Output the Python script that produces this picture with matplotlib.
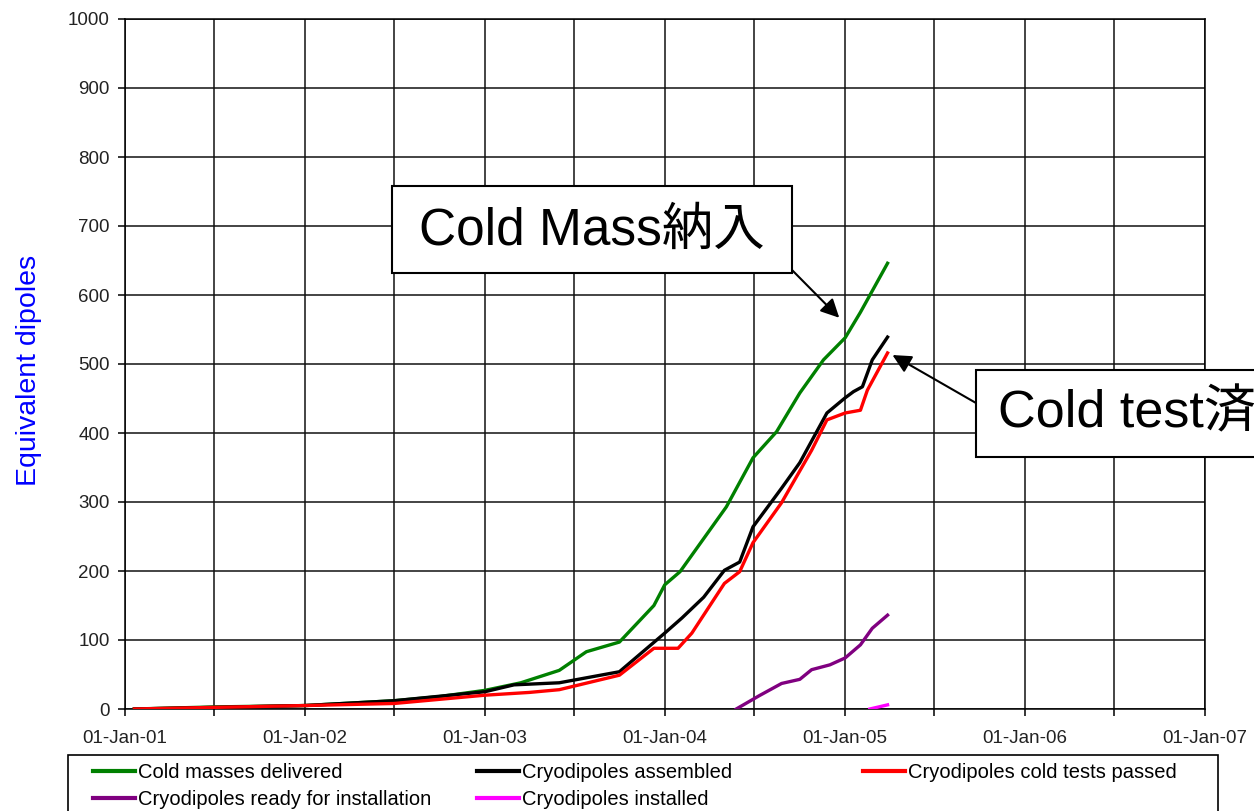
import pandas as pd
import matplotlib
matplotlib.use('Agg')
import matplotlib.pyplot as plt
import matplotlib.dates as mdates
from matplotlib.patches import Rectangle
from matplotlib.lines import Line2D

plt.rcParams['font.family'] = ['Liberation Sans', 'Noto Sans CJK JP', 'DejaVu Sans']

# data
cm_dates = ['2001-01-20', '2001-07-01', '2002-01-01', '2002-07-01', '2002-10-01', '2003-01-01',
            '2003-03-15', '2003-06-01', '2003-07-26', '2003-10-01', '2003-12-10', '2004-01-01',
            '2004-02-01', '2004-05-05', '2004-06-28', '2004-08-15', '2004-10-01', '2004-11-18',
            '2005-01-01', '2005-02-01', '2005-03-28']
cm_vals = [0, 3, 5, 12, 18, 27, 38, 56, 83, 97, 150, 180, 199, 293, 364, 402, 458, 506, 538, 575, 646]

asm_dates = ['2001-01-20', '2002-01-01', '2002-07-01', '2003-01-01', '2003-03-01', '2003-06-01',
             '2003-10-01', '2004-01-01', '2004-02-05', '2004-03-20', '2004-05-01', '2004-06-01',
             '2004-06-28', '2004-08-25', '2004-10-01', '2004-11-25', '2005-01-01', '2005-01-18',
             '2005-02-05', '2005-02-25', '2005-03-28']
asm_vals = [0, 5, 12, 25, 35, 38, 54, 110, 132, 162, 201, 213, 264, 320, 357, 429, 451, 460, 467, 506, 539]

ct_dates = ['2001-01-20', '2002-01-01', '2002-07-01', '2003-01-01', '2003-04-01', '2003-06-01',
            '2003-10-01', '2003-12-10', '2004-01-28', '2004-02-25', '2004-05-01', '2004-06-01',
            '2004-06-28', '2004-08-25', '2004-10-25', '2004-11-25', '2005-01-01', '2005-02-01',
            '2005-02-15', '2005-03-28']
ct_vals = [0, 5, 8, 20, 24, 28, 49, 88, 88, 110, 182, 199, 241, 299, 375, 419, 429, 433, 462, 516]

rdy_dates = ['2004-05-25', '2004-07-10', '2004-08-25', '2004-10-01', '2004-10-25', '2004-12-01',
             '2005-01-01', '2005-02-01', '2005-02-25', '2005-03-28']
rdy_vals = [0, 19, 37, 43, 57, 64, 74, 93, 117, 136]

inst_dates = ['2005-02-20', '2005-03-28']
inst_vals = [0, 6]

names = ['Cold masses delivered', 'Cryodipoles assembled', 'Cryodipoles cold tests passed',
         'Cryodipoles ready for installation', 'Cryodipoles installed']
colors = ['#008000', '#000000', '#ff0000', '#800080', '#ff00ff']
series = [(cm_dates, cm_vals), (asm_dates, asm_vals), (ct_dates, ct_vals),
          (rdy_dates, rdy_vals), (inst_dates, inst_vals)]

fig = plt.figure(figsize=(12.54, 8.11), dpi=100)
ax = fig.add_axes([125 / 1254, 102 / 811, 1080 / 1254, 690 / 811])

for (d, v), c in zip(series, colors):
    ax.plot(pd.to_datetime(d), v, color=c, lw=2.4, solid_joinstyle='round', zorder=3)

ax.set_xlim(pd.Timestamp('2001-01-01'), pd.Timestamp('2007-01-01'))
ax.set_ylim(0, 1000)
ax.set_yticks(range(0, 1001, 100))
ax.xaxis.set_major_locator(mdates.YearLocator())
ax.xaxis.set_minor_locator(mdates.MonthLocator(bymonth=7))
ax.xaxis.set_major_formatter(mdates.DateFormatter('%d-%b-%y'))
ax.grid(True, which='both', color='#111111', lw=1.1)
ax.tick_params(which='both', direction='out', length=5, width=1.1, color='black')
ax.tick_params(axis='x', labelsize=13.5, pad=10, labelcolor='#222222')
ax.tick_params(axis='y', labelsize=13.5, pad=6, labelcolor='#222222')
for s in ax.spines.values():
    s.set_color('black')
    s.set_linewidth(1.1)

fig.text(29 / 1254, 1 - 370 / 811, 'Equivalent dipoles', rotation=90, color='#0000ff',
         fontsize=20.5, ha='center', va='center')

# callout boxes
H = 811
fig.add_artist(Rectangle((392 / 1254, 1 - 273 / H), 400 / 1254, 87 / H, transform=fig.transFigure,
                         facecolor='white', edgecolor='black', lw=1.5, zorder=5))
fig.text(592 / 1254, 1 - 231 / H, 'Cold Mass納入', fontsize=37, ha='center', va='center', zorder=6)
fig.add_artist(Rectangle((976 / 1254, 1 - 457 / H), 320 / 1254, 87 / H, transform=fig.transFigure,
                         facecolor='white', edgecolor='black', lw=1.5, zorder=5))
fig.text(998 / 1254, 1 - 414 / H, 'Cold test済', fontsize=37.5, ha='left', va='center', zorder=6)

ax.annotate('', xy=(pd.Timestamp('2004-12-20'), 567), xycoords='data',
            xytext=(792, H - 270), textcoords='figure pixels',
            arrowprops=dict(arrowstyle='-|>', color='black', lw=1.5, mutation_scale=28,
                            shrinkA=0, shrinkB=0))
ax.annotate('', xy=(pd.Timestamp('2005-04-07'), 513), xycoords='data',
            xytext=(976, H - 403), textcoords='figure pixels',
            arrowprops=dict(arrowstyle='-|>', color='black', lw=1.5, mutation_scale=28,
                            shrinkA=0, shrinkB=0))

# legend: framed box with three equal columns, runs off the bottom of the figure
fig.add_artist(Rectangle((68 / 1254, -0.05), 1150 / 1254, (811 - 755) / H + 0.05,
                         transform=fig.transFigure, facecolor='white', edgecolor='black', lw=1.2))
handles = [Line2D([], [], color=c, lw=3) for c in colors]
cols = [[0, 3], [1, 4], [2]]
col_x = [79, 463, 849]
for idx, x0 in zip(cols, col_x):
    fig.legend([handles[i] for i in idx], [names[i] for i in idx], loc='upper left',
               bbox_to_anchor=(x0 / 1254, 1 - 749 / H), frameon=False, fontsize=14.5,
               handlelength=2.1, handletextpad=0.15, labelspacing=0.4, borderpad=0.2)

fig.savefig('out.png', dpi=100)
